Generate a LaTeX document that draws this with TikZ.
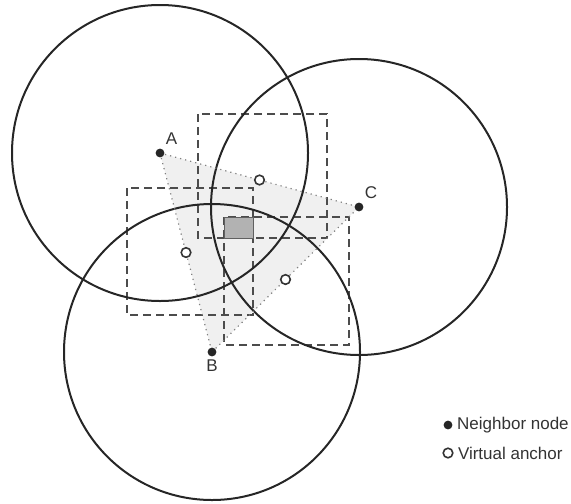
\documentclass[tikz,border=0pt]{standalone}
\usepackage{fontspec}
\setmainfont{Liberation Sans}
\usepackage{xcolor}
\usetikzlibrary{positioning,calc}

\begin{document}
\begin{tikzpicture}[x=0.5pt,y=-0.5pt,font=\fontsize{8.5}{10}\selectfont,node distance=1pt]
\tikzstyle{nbr}=[circle,fill=black!85,inner sep=0pt,minimum size=4.4pt]
\tikzstyle{vanchor}=[circle,draw=black!80,line width=0.8pt,fill=white,inner sep=0pt,minimum size=4.8pt]
\tikzstyle{lbl}=[inner sep=1pt,text=black!80]
\tikzstyle{rangecircle}=[line width=1pt,black!85]
\tikzstyle{anchorbox}=[dashed,dash pattern=on 4pt off 2.5pt,line width=0.75pt,black!70]
\tikzstyle{triside}=[dotted,line width=0.6pt,black!50]
\useasboundingbox (0,0) rectangle (571,503);
% neighbor nodes
\coordinate (A) at (160,153);
\coordinate (B) at (212,352);
\coordinate (C) at (359,207);
% region between the three neighbours
\fill[gray!12] (A) -- (C) -- (B) -- cycle;
% bounding boxes of the virtual anchors
\draw[anchorbox] (198,114) rectangle (327,238);
\draw[anchorbox] (127,188) rectangle (253,315);
\draw[anchorbox] (224,217) rectangle (349,345);
\filldraw[fill=gray!60,draw=gray!75!black,line width=0.5pt] (224,217) rectangle (253,238);
% radio ranges
\draw[rangecircle] (A) circle[radius=74pt];
\draw[rangecircle] (B) circle[radius=74pt];
\draw[rangecircle] (C) circle[radius=74pt];
\draw[triside] (A) -- (C);
\draw[triside] (A) -- (B);
\draw[triside] (B) -- (C);
\node[nbr] (nA) at (A) {};
\node[nbr] (nB) at (B) {};
\node[nbr] (nC) at (C) {};
\node[lbl,above right=1.5pt and 0pt of nA] {A};
\node[lbl,below=0.5pt of nB] {B};
\node[lbl,above right=1.5pt and 0pt of nC] {C};
\node[vanchor] (mAC) at ($(A)!0.5!(C)$) {};
\node[vanchor] (mAB) at ($(A)!0.5!(B)$) {};
\node[vanchor] (mBC) at ($(B)!0.5!(C)$) {};
% legend
\node[nbr] (key1) at (448,425) {};
\node[lbl,right=1pt of key1] {Neighbor node};
\node[vanchor] (key2) at (448,453) {};
\node[lbl,right=1pt of key2] {Virtual anchor};
\end{tikzpicture}
\end{document}
